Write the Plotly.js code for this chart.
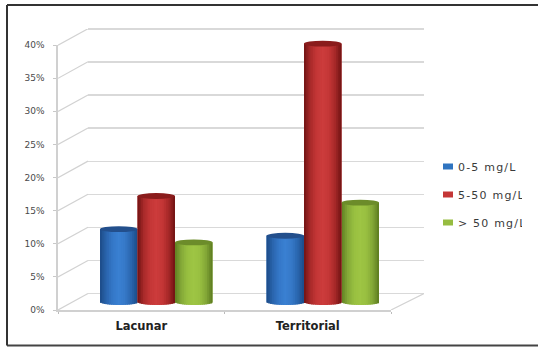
<!DOCTYPE html>
<html>
<head>
<meta charset="utf-8">
<script src="https://cdn.plot.ly/plotly-3.0.1.min.js"></script>
<style>
html,body{margin:0;padding:0;background:#fff}
#chart .legendtext{letter-spacing:1.2px}
#chart .xtick text{letter-spacing:1.3px}
/* Legend swatches are small flat rectangles sitting close to their text */
#chart .legend .legendpoints path{d:path('M15,3H5V-3H15Z')}
</style>
</head>
<body>
<div id="chart" style="width:538px;height:347px"></div>
<script>
// Stroke subtype by category, share of patients (%)
const categories = ['Lacunar', 'Territorial'];
const seriesNames = ['0-5 mg/L', '5-50 mg/L', '> 50 mg/L'];
const lowValues = [11, 10];
const midValues = [16, 39];
const highValues = [9, 15];
const yTicks = [0, 5, 10, 15, 20, 25, 30, 35, 40];
const yTickText = ['0%', '5%', '10%', '15%', '20%', '25%', '30%', '35%', '40%'];

// Cylinder shading, left edge to right edge of each bar
const blueShades = ['#1c4a86', '#2a65ad', '#3478c8', '#3a80d2', '#3679c8', '#2a66ae', '#1b4b87'];
const redShades = ['#701313', '#a82a2a', '#c43636', '#cc3c3c', '#c43636', '#a52828', '#6e1212'];
const greenShades = ['#5f7f22', '#84a938', '#98bf40', '#9ec544', '#98bf40', '#82a636', '#5c7a20'];
const baseColors = ['#2f74c0', '#c43636', '#96bc40'];
const capColors = ['#234f8c', '#8a1c1c', '#6c8c2a'];

const W = 538, H = 347;
const domX = (a, b) => [a / W, b / W];
const domY = (top, bottom) => [1 - bottom / H, 1 - top / H];

const STRIPS = 21;
const BAR_W = 0.2252;
const CURVE = 0.45; // vertical radius of the bar ends, in percent points
const BELOW_FLOOR = 8 / 6.625; // room under the cylinder plane for the rounded ends

function shadeAt(shades, t) {
  const p = t * (shades.length - 1);
  const i = Math.min(Math.floor(p), shades.length - 2);
  const mix = p - i;
  const rgb = s => [1, 3, 5].map(k => parseInt(s.substr(k, 2), 16));
  const a = rgb(shades[i]), b = rgb(shades[i + 1]);
  return 'rgb(' + a.map((v, k) => Math.round(v + (b[k] - v) * mix)).join(',') + ')';
}

// One bar trace per series: a flat full-width bar, then narrow overlapping strips over it
function cylinderTrace(name, values, shades, base, seriesIndex) {
  const x = [], y = [], b = [], offset = [], width = [], color = [];
  const left = (seriesIndex - 1.5) * BAR_W;
  const step = BAR_W / STRIPS;
  categories.forEach((c, k) => {
    x.push(c); y.push(values[k]); b.push(0); offset.push(left); width.push(BAR_W); color.push(base);
  });
  categories.forEach((c, k) => {
    for (let s = 0; s < STRIPS; s++) {
      const t = (s + 0.5) / STRIPS;
      const dip = CURVE * Math.sqrt(1 - Math.pow(2 * t - 1, 2));
      x.push(c); y.push(values[k] + dip); b.push(-dip);
      offset.push(left + s * step);
      width.push(s === STRIPS - 1 ? step : step * 1.8);
      color.push(shadeAt(shades, t));
    }
  });
  return {
    type: 'bar', name, x, y, base: b, offset, width,
    marker: {color, line: {width: 0}},
    xaxis: 'x4', yaxis: 'y4', hoverinfo: 'skip',
    legendgroup: name, legendrank: seriesIndex + 1
  };
}

// Slanted floor and wall edges joining the front axis to the back wall
const depthX = [], depthY = [];
yTicks.forEach(v => { depthX.push(0, 30, null); depthY.push(v, v + 2.49, null); });
depthX.push(333, 366);
depthY.push(0, 2.49);

const depthTrace = {
  type: 'scatter', mode: 'lines', x: depthX, y: depthY,
  line: {color: '#d2d2d2', width: 1.2},
  xaxis: 'x2', yaxis: 'y2', hoverinfo: 'skip', showlegend: false, cliponaxis: false
};

// Empty traces that keep the label-only and grid-only axis pairs on the page
const wallTrace = {type: 'scatter', mode: 'none', x: [0], y: [0], xaxis: 'x', yaxis: 'y', showlegend: false, hoverinfo: 'skip'};
const frontTrace = {type: 'scatter', mode: 'none', x: [0], y: [0], xaxis: 'x3', yaxis: 'y3', showlegend: false, hoverinfo: 'skip'};

const data = [
  wallTrace,
  depthTrace,
  frontTrace,
  cylinderTrace(seriesNames[0], lowValues, blueShades, baseColors[0], 0),
  cylinderTrace(seriesNames[2], highValues, greenShades, baseColors[2], 2),
  cylinderTrace(seriesNames[1], midValues, redShades, baseColors[1], 1)
];

// Bar top caps
const caps = [];
[lowValues, highValues, midValues].forEach((vals, idx) => {
  const si = [0, 2, 1][idx];
  vals.forEach((v, k) => {
    const left = k + (si - 1.5) * BAR_W;
    caps.push({
      type: 'circle', xref: 'x4', yref: 'y4', layer: 'above',
      x0: left, x1: left + BAR_W, y0: v - CURVE, y1: v + CURVE,
      fillcolor: capColors[si], line: {width: 0}
    });
  });
});

const frame = [
  {type: 'line', xref: 'paper', yref: 'paper', x0: 7 / W, x1: 1, y0: 1 - 5 / H, y1: 1 - 5 / H, line: {color: '#333', width: 2}},
  {type: 'line', xref: 'paper', yref: 'paper', x0: 7 / W, x1: 1, y0: 1 - 345.5 / H, y1: 1 - 345.5 / H, line: {color: '#444', width: 2}},
  {type: 'line', xref: 'paper', yref: 'paper', x0: 7 / W, x1: 7 / W, y0: 1 - 5 / H, y1: 1 - 345.5 / H, line: {color: '#333', width: 2}}
];

const layout = {
  width: W, height: H,
  margin: {l: 0, r: 0, t: 0, b: 0},
  paper_bgcolor: '#fff', plot_bgcolor: 'rgba(0,0,0,0)',
  barmode: 'overlay',
  showlegend: true,
  legend: {
    x: 418 / W, y: 1 - 152 / H, xanchor: 'left', yanchor: 'top',
    font: {family: 'DejaVu Sans', size: 11, color: '#3a3a3a'},
    tracegroupgap: 9, traceorder: 'grouped', bgcolor: 'rgba(0,0,0,0)',
    entrywidth: 78, entrywidthmode: 'pixels'
  },
  // Back wall with its gridlines; the range runs a little past 0 and 40 so both end lines are drawn
  xaxis: {domain: domX(88, 424), range: [0, 1], showgrid: false, zeroline: false, showticklabels: false, ticks: '', anchor: 'y'},
  yaxis: {domain: domY(27.7, 294.8), range: [-0.2, 40.2], tickvals: yTicks, showticklabels: false, ticks: '', gridcolor: '#d9d9d9', gridwidth: 1.5, zeroline: false, anchor: 'x'},
  // Slanted edges, measured along the width of the chart box
  xaxis2: {domain: domX(58, 424), range: [0, 366], visible: false, anchor: 'y2'},
  yaxis2: {domain: domY(29, 310), range: [0, 42.45], visible: false, anchor: 'x2'},
  // Front axes with all tick labels
  xaxis3: {
    domain: domX(58, 391), range: [-0.5, 1.5], anchor: 'y3',
    tickvals: [0, 1], ticktext: categories, ticks: '', ticklen: 0, ticklabelstandoff: 5,
    tickfont: {family: 'DejaVu Sans', size: 11.5, color: '#222', weight: 700},
    showline: true, linecolor: '#d0d0d0', linewidth: 1.6, showgrid: false, zeroline: false,
    minor: {tickvals: [-0.5, 0.5, 1.5], ticks: 'outside', ticklen: 2, tickcolor: '#bbb', tickwidth: 1, showgrid: false}
  },
  yaxis3: {
    domain: domY(45, 310), range: [0, 40], anchor: 'x3',
    tickvals: yTicks, ticktext: yTickText, ticklabelstandoff: 7,
    tickfont: {family: 'DejaVu Sans', size: 9, color: '#4a4a4a'},
    ticks: 'outside', ticklen: 3, tickcolor: '#c8c8c8',
    showline: true, linecolor: '#d0d0d0', linewidth: 1.6, showgrid: false, zeroline: false
  },
  // Plane the cylinders stand on, halfway between front and back
  xaxis4: {domain: domX(73, 406), type: 'category', categoryorder: 'array', categoryarray: categories, range: [-0.5, 1.5], visible: false, anchor: 'y4'},
  yaxis4: {domain: domY(37, 310), range: [-BELOW_FLOOR, 40], visible: false, anchor: 'x4'},
  shapes: caps.concat(frame)
};

Plotly.newPlot('chart', data, layout, {staticPlot: true, displayModeBar: false});
</script>
</body>
</html>
